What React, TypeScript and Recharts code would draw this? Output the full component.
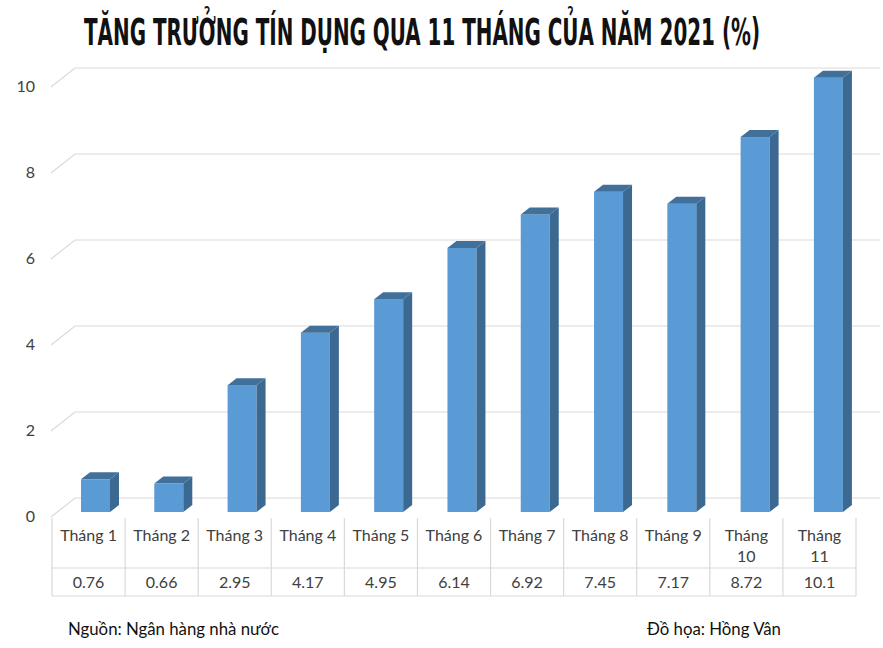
import React from 'react';
import { BarChart, Bar, XAxis, YAxis, CartesianGrid } from 'recharts';

const months = ['Tháng 1', 'Tháng 2', 'Tháng 3', 'Tháng 4', 'Tháng 5', 'Tháng 6', 'Tháng 7', 'Tháng 8', 'Tháng 9', 'Tháng 10', 'Tháng 11'];
const growth = [0.76, 0.66, 2.95, 4.17, 4.95, 6.14, 6.92, 7.45, 7.17, 8.72, 10.1];
const growthLabels = ['0.76', '0.66', '2.95', '4.17', '4.95', '6.14', '6.92', '7.45', '7.17', '8.72', '10.1'];
const yTicks = [0, 2, 4, 6, 8, 10];

const W = 883;
const H = 648;
const PLOT_LEFT = 52;
const PLOT_RIGHT = 856;
const PLOT_TOP = 39;
const PLOT_BOTTOM = 512;
const Y_MAX = 11; // 43px per unit, room above the tallest bar
const BAND = (PLOT_RIGHT - PLOT_LEFT) / months.length;
const DEPTH_X = 9;
const DEPTH_Y = 7;

const FRONT = '#5b9bd5';
const SIDE = '#3b6992';
const TOP = '#41709b';
const GRID = '#d9d9d9';
const TEXT = '#404040';
const FONT = 'Lato, "Open Sans", sans-serif';

const chartData = months.map((m, i) => ({ month: m, value: growth[i], label: growthLabels[i] }));

const Bar3D = (props: any) => {
  const { x, y, width, height, index } = props;
  const fx = x + 7 + index * 0.2;
  const bottom = y + height;
  const r = fx + width;
  return (
    <g>
      <rect x={fx} y={y} width={width} height={height} fill={FRONT} />
      <polygon
        points={`${r},${y} ${r + DEPTH_X},${y - DEPTH_Y} ${r + DEPTH_X},${bottom - DEPTH_Y} ${r},${bottom}`}
        fill={SIDE}
      />
      <polygon
        points={`${fx},${y} ${fx + DEPTH_X},${y - DEPTH_Y} ${r + DEPTH_X},${y - DEPTH_Y} ${r},${y}`}
        fill={TOP}
      />
    </g>
  );
};

// 3D wall gridline: front edge -> back wall
const gridLine = (p: any) => {
  const y = p.y1;
  return (
    <path
      key={`g-${p.index}-${y}`}
      d={`M 51 ${y + 5} L 75 ${y - 14} L 880 ${y - 14}`}
      stroke={GRID}
      strokeWidth={1.2}
      fill="none"
    />
  );
};

const gridCoords = (args: any) => {
  const scale = args?.yAxis?.scale;
  if (typeof scale === 'function') return yTicks.map((t) => scale(t));
  return yTicks.map((t) => PLOT_BOTTOM - (t / Y_MAX) * (PLOT_BOTTOM - PLOT_TOP));
};

const YTick = (props: any) => {
  const { y, payload } = props;
  return (
    <text x={35} y={y + 10} textAnchor="end" fontSize={16} fill={TEXT} fontFamily={FONT}>
      {payload.value}
    </text>
  );
};

const TableTick = (props: any) => {
  const { x, payload, index } = props;
  const left = x - BAND / 2;
  const right = x + BAND / 2;
  const name: string = payload.value;
  const lines = name.length > 7 ? name.split(' ') : [name];
  return (
    <g>
      <line x1={left} y1={518} x2={left} y2={596} stroke={GRID} strokeWidth={1.2} />
      {index === months.length - 1 && <line x1={right} y1={518} x2={right} y2={596} stroke={GRID} strokeWidth={1.2} />}
      <line x1={left} y1={568} x2={right} y2={568} stroke={GRID} strokeWidth={1.2} />
      <line x1={left} y1={596} x2={right} y2={596} stroke={GRID} strokeWidth={1.2} />
      {lines.map((l, i) => (
        <text key={i} x={x} y={541 + i * 21} textAnchor="middle" fontSize={16} fill={TEXT} fontFamily={FONT}>
          {l}
        </text>
      ))}
      <text x={x} y={588} textAnchor="middle" fontSize={16} fill={TEXT} fontFamily={FONT}>
        {growthLabels[index]}
      </text>
    </g>
  );
};

export default function App() {
  return (
    <div style={{ position: 'absolute', left: 0, top: 0, width: W, height: H, background: '#fff' }}>
      <div style={{ position: 'absolute', left: 0, top: 0 }}>
        <BarChart
          width={W}
          height={H}
          data={chartData}
          margin={{ top: PLOT_TOP, right: W - PLOT_RIGHT, bottom: 0, left: 0 }}
        >
          <CartesianGrid
            vertical={false}
            horizontal={gridLine}
            horizontalCoordinatesGenerator={gridCoords}
          />
          <YAxis
            width={PLOT_LEFT}
            domain={[0, Y_MAX]}
            ticks={yTicks}
            axisLine={false}
            tickLine={false}
            tick={<YTick />}
            interval={0}
          />
          <XAxis
            dataKey="month"
            height={H - PLOT_BOTTOM}
            axisLine={false}
            tickLine={false}
            tick={<TableTick />}
            interval={0}
          />
          <Bar dataKey="value" barSize={29} shape={<Bar3D />} isAnimationActive={false} />
        </BarChart>
      </div>
      <svg width={W} height={66} style={{ position: 'absolute', left: 0, top: 0 }}>
        <text
          x={84}
          y={45}
          textLength={676}
          lengthAdjust="spacingAndGlyphs"
          fontFamily='"Liberation Sans Narrow", "DejaVu Sans Condensed", sans-serif'
          fontWeight="bold"
          fontSize={37}
          fill="#111"
        >
          TĂNG TRƯỞNG TÍN DỤNG QUA 11 THÁNG CỦA NĂM 2021 (%)
        </text>
      </svg>
      <div style={{ position: 'absolute', left: 68, top: 618, fontFamily: FONT, fontSize: 16.8, color: '#111' }}>
        Nguồn: Ngân hàng nhà nước
      </div>
      <div style={{ position: 'absolute', left: 647, top: 618, fontFamily: FONT, fontSize: 16.8, color: '#111' }}>
        Đồ họa: Hồng Vân
      </div>
    </div>
  );
}
